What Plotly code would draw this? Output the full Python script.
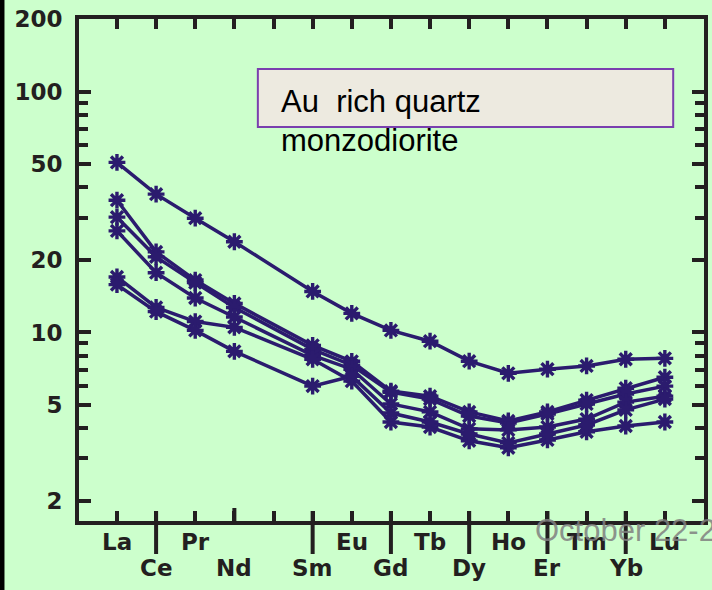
import math
import plotly.graph_objects as go

# ---------------- data ----------------
elements = ["La", "Ce", "Pr", "Nd", "Pm", "Sm", "Eu", "Gd", "Tb", "Dy", "Ho", "Er", "Tm", "Yb", "Lu"]
label_upper = ["La", "", "Pr", "", "", "", "Eu", "", "Tb", "", "Ho", "", "Tm", "", "Lu"]
label_lower = ["", "Ce", "", "Nd", "", "Sm", "", "Gd", "", "Dy", "", "Er", "", "Yb", ""]
long_tick_elements = ["Ce", "Sm", "Gd", "Dy", "Er", "Yb"]
short_long_tick_elements = ["Nd"]

sample_a = [50.8, 37.5, 29.8, 23.8, None, 14.8, 12.0, 10.2, 9.2, 7.6, 6.77, 7.04, 7.26, 7.74, 7.81]
sample_b = [35.4, 21.6, 16.5, 13.2, None, 8.84, 7.59, 5.71, 5.44, 4.68, 4.29, 4.68, 5.24, 5.87, 6.52]
sample_c = [30.1, 20.6, 16.1, 12.7, None, 8.51, 7.31, 5.65, 5.29, 4.50, 4.21, 4.59, 5.05, 5.55, 5.99]
sample_d = [26.4, 17.7, 13.9, 11.6, None, 8.04, 7.04, 5.05, 4.68, 3.98, 3.94, 4.05, 4.37, 5.14, 5.44]
sample_e = [17.0, 12.7, 11.1, 10.5, None, 7.74, 6.28, 4.25, 4.05, 3.55, 3.32, 3.58, 3.87, 4.09, 4.25]
sample_f = [15.8, 12.2, 10.2, 8.35, None, 5.99, 6.58, 4.63, 4.25, 3.79, 3.48, 3.79, 4.13, 4.77, 5.29]
samples = [sample_a, sample_b, sample_c, sample_d, sample_e, sample_f]

y_tickvals = [2, 5, 10, 20, 50, 100, 200]
y_ticktext = ["2", "5", "10", "20", "50", "100", "200"]
y_minor_vals = [3, 4, 6, 7, 8, 9, 30, 40, 60, 70, 80, 90]

box_line1 = "Au\u00a0\u00a0rich quartz"
box_line2 = "monzodiorite"
watermark = "October 22-24"

# ---------------- style ----------------
BG = "#CCFFCC"
AX = "#231F20"
LINE = "#2B1B6E"
W, H = 712, 590
ML, MR, MT, MB = 79, 4, 19, 69
PW, PH = W - ML - MR, H - MT - MB

def px_x(px):
    return (px - ML) / PW

def px_y(py):
    return (H - MB - py) / PH

xs = list(range(len(elements)))

fig = go.Figure()
for s in samples:
    fig.add_trace(go.Scatter(
        x=xs, y=s, mode="lines+markers", connectgaps=True,
        line=dict(color=LINE, width=3.5),
        marker=dict(symbol="asterisk-open", size=14, line=dict(color=LINE, width=3.4), color=LINE),
        showlegend=False, hoverinfo="skip",
    ))

tick_font = dict(family="DejaVu Sans", size=23, color=AX, weight="bold")

annotations = []
for i, (u, l) in enumerate(zip(label_upper, label_lower)):
    if u:
        annotations.append(dict(x=i, y=px_y(542), xref="x", yref="paper", text=u,
                                showarrow=False, font=tick_font, xanchor="center", yanchor="middle"))
    if l:
        annotations.append(dict(x=i, y=px_y(568), xref="x", yref="paper", text=l,
                                showarrow=False, font=tick_font, xanchor="center", yanchor="middle"))

annotations.append(dict(x=px_x(280), y=px_y(102), xref="paper", yref="paper", text=box_line1,
                        showarrow=False, xanchor="left", yanchor="middle",
                        font=dict(family="Liberation Sans", size=31, color="#000000")))
annotations.append(dict(x=px_x(280), y=px_y(140), xref="paper", yref="paper", text=box_line2,
                        showarrow=False, xanchor="left", yanchor="middle",
                        font=dict(family="Liberation Sans", size=31, color="#000000")))
annotations.append(dict(x=px_x(536), y=px_y(530), xref="paper", yref="paper", text=watermark,
                        showarrow=False, xanchor="left", yanchor="middle",
                        font=dict(family="Liberation Sans", size=31, color="rgba(128,128,128,0.85)")))

shapes = []
# left black strip
shapes.append(dict(type="rect", xref="paper", yref="paper", x0=px_x(-2), x1=px_x(4),
                   y0=px_y(600), y1=px_y(-10), fillcolor="#000000", line=dict(width=0), layer="above"))
# long ticks below the axis
for el in long_tick_elements:
    i = elements.index(el)
    shapes.append(dict(type="line", xref="x", yref="paper", x0=i, x1=i,
                       y0=px_y(511), y1=px_y(554), line=dict(color=AX, width=4)))
for el in short_long_tick_elements:
    i = elements.index(el)
    shapes.append(dict(type="line", xref="x", yref="paper", x0=i, x1=i,
                       y0=px_y(508), y1=px_y(523), line=dict(color=AX, width=4)))
# text box
shapes.append(dict(type="rect", xref="paper", yref="paper", x0=px_x(259), x1=px_x(677),
                   y0=px_y(127), y1=px_y(69), fillcolor="#EDEAE0",
                   line=dict(color="#7A3FAE", width=2), layer="above"))

fig.update_layout(
    width=W, height=H,
    margin=dict(l=ML, r=MR, t=MT, b=MB, pad=0),
    paper_bgcolor=BG, plot_bgcolor=BG,
    showlegend=False,
    annotations=annotations,
    shapes=shapes,
    xaxis=dict(
        range=[-0.97, 15.0], tickvals=xs, showticklabels=False,
        ticks="inside", ticklen=10, tickwidth=4, tickcolor=AX,
        showline=True, linewidth=4, linecolor=AX, mirror="ticks",
        showgrid=False, zeroline=False,
    ),
    yaxis=dict(
        type="log", range=[math.log10(1.65), math.log10(200)],
        tickvals=y_tickvals, ticktext=y_ticktext,
        ticks="inside", ticklen=12, tickwidth=4, tickcolor=AX,
        minor=dict(tickvals=y_minor_vals, ticks="inside", ticklen=9, tickwidth=4, tickcolor=AX, showgrid=False),
        showline=True, linewidth=4, linecolor=AX, mirror="ticks",
        showgrid=False, zeroline=False,
        tickfont=tick_font, ticklabelstandoff=8,
    ),
)

fig.write_html(
    "out.html",
    config={"displayModeBar": False},
    post_script="document.body.style.margin='0';document.body.style.background='#CCFFCC';document.body.style.overflow='hidden';",
)
